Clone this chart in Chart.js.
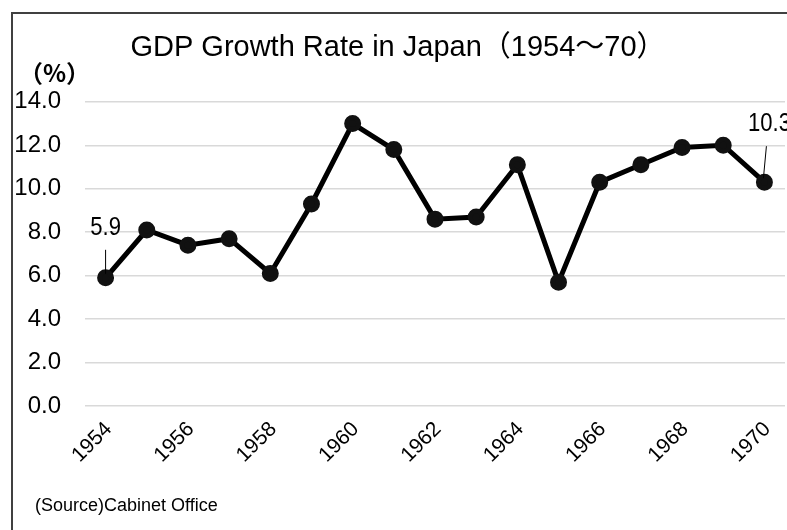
<!DOCTYPE html>
<html>
<head>
<meta charset="utf-8">
<script src="https://cdn.jsdelivr.net/npm/chart.js@4.4.0/dist/chart.umd.min.js"></script>
<style>
  body { margin: 0; background: #fff; }
  #wrap { position: relative; width: 787px; height: 530px; overflow: hidden; }
  /* outer frame: only top and left edges show in the reference */
  #frame {
    position: absolute; left: 11px; top: 12px; width: 900px; height: 600px;
    border-top: 2px solid #404040; border-left: 2px solid #404040;
  }
  #unit {
    position: absolute; left: 19px; top: 54px;
    font: bold 24px "Noto Sans CJK JP", sans-serif; color: #000;
  }
  #source {
    position: absolute; left: 35px; top: 495px;
    font: 18px "Liberation Sans", Arial, sans-serif; color: #000;
  }
  canvas { position: absolute; left: 0; top: 0; }
</style>
</head>
<body>
<div id="wrap">
  <div id="frame"></div>
  <canvas id="gdpChart" width="787" height="530"></canvas>
  <div id="unit">（%）</div>
  <div id="source">(Source)Cabinet Office</div>
</div>
<script>
// Data
var years = ["1954", "1955", "1956", "1957", "1958", "1959", "1960", "1961", "1962",
             "1963", "1964", "1965", "1966", "1967", "1968", "1969", "1970"];
var growthRates = [5.9, 8.1, 7.4, 7.7, 6.1, 9.3, 13.0, 11.8, 8.6, 8.7, 11.1, 5.7, 10.3, 11.1, 11.9, 12.0, 10.3];
var yTicks = [0, 2, 4, 6, 8, 10, 12, 14];
var chartTitle = "GDP Growth Rate in Japan（1954〜70）";

// Labels on the first and last points, with a short leader line
var endLabels = {
  id: "endLabels",
  afterDatasetsDraw: function (chart) {
    var ctx = chart.ctx;
    var pts = chart.getDatasetMeta(0).data;
    var first = pts[0];
    var last = pts[pts.length - 1];
    ctx.save();
    ctx.strokeStyle = "#000";
    ctx.lineWidth = 1;
    ctx.beginPath();
    ctx.moveTo(first.x, first.y - 28);
    ctx.lineTo(first.x, first.y - 4);
    ctx.moveTo(last.x + 2, last.y - 36);
    ctx.lineTo(last.x - 1, last.y - 4);
    ctx.stroke();
    ctx.fillStyle = "#000";
    ctx.font = "26px 'Liberation Sans', sans-serif";
    ctx.textAlign = "center";
    ctx.textBaseline = "middle";
    // narrow the glyphs a little, like the original font
    drawNarrow(ctx, growthRates[0].toFixed(1), first.x, first.y - 50);
    drawNarrow(ctx, growthRates[growthRates.length - 1].toFixed(1), last.x + 5, last.y - 58);
    ctx.restore();
  }
};

function drawNarrow(ctx, text, x, y) {
  ctx.save();
  ctx.translate(x, y);
  ctx.scale(0.85, 1);
  ctx.fillText(text, 0, 0);
  ctx.restore();
}

new Chart(document.getElementById("gdpChart").getContext("2d"), {
  type: "line",
  data: {
    labels: years,
    datasets: [
      {
        data: growthRates,
        borderColor: "#000",
        borderWidth: 5,
        backgroundColor: "#111",
        pointBackgroundColor: "#111",
        pointBorderColor: "#111",
        pointRadius: 6,
        tension: 0,
      },
    ],
  },
  options: {
    responsive: false,
    animation: false,
    devicePixelRatio: 1,
    layout: { autoPadding: false, padding: { left: 11, right: 2, top: 0, bottom: 0 } },
    plugins: {
      legend: { display: false },
      tooltip: { enabled: false },
      title: {
        display: true,
        text: chartTitle,
        color: "#000",
        font: { family: "'Liberation Sans', 'Noto Sans CJK JP', sans-serif", size: 29, weight: "normal" },
        padding: { top: 31, bottom: 36 },
      },
    },
    scales: {
      x: {
        offset: true,
        grid: { display: false },
        border: { display: false },
        ticks: {
          autoSkip: false,
          maxRotation: 45,
          minRotation: 45,
          padding: 3,
          labelOffset: 3,
          color: "#000",
          font: { family: "'Liberation Sans', sans-serif", size: 21 },
          callback: function (value, index) {
            return index % 2 === 0 ? years[index] : "";
          },
        },
        afterFit: function (scale) {
          scale.height = 124;
          scale.paddingLeft = 0;
          scale.paddingRight = 0;
        },
      },
      y: {
        min: yTicks[0],
        max: yTicks[yTicks.length - 1],
        border: { display: false },
        grid: { color: "#d9d9d9", lineWidth: 1.5, drawTicks: false },
        afterBuildTicks: function (scale) {
          scale.ticks = yTicks.map(function (v) { return { value: v }; });
        },
        ticks: {
          padding: 24,
          color: "#000",
          font: { family: "'Liberation Sans', sans-serif", size: 24 },
          callback: function (value) {
            return Number(value).toFixed(1);
          },
        },
        afterFit: function (scale) {
          scale.width = 74;
        },
      },
    },
  },
  plugins: [endLabels],
});
</script>
</body>
</html>
